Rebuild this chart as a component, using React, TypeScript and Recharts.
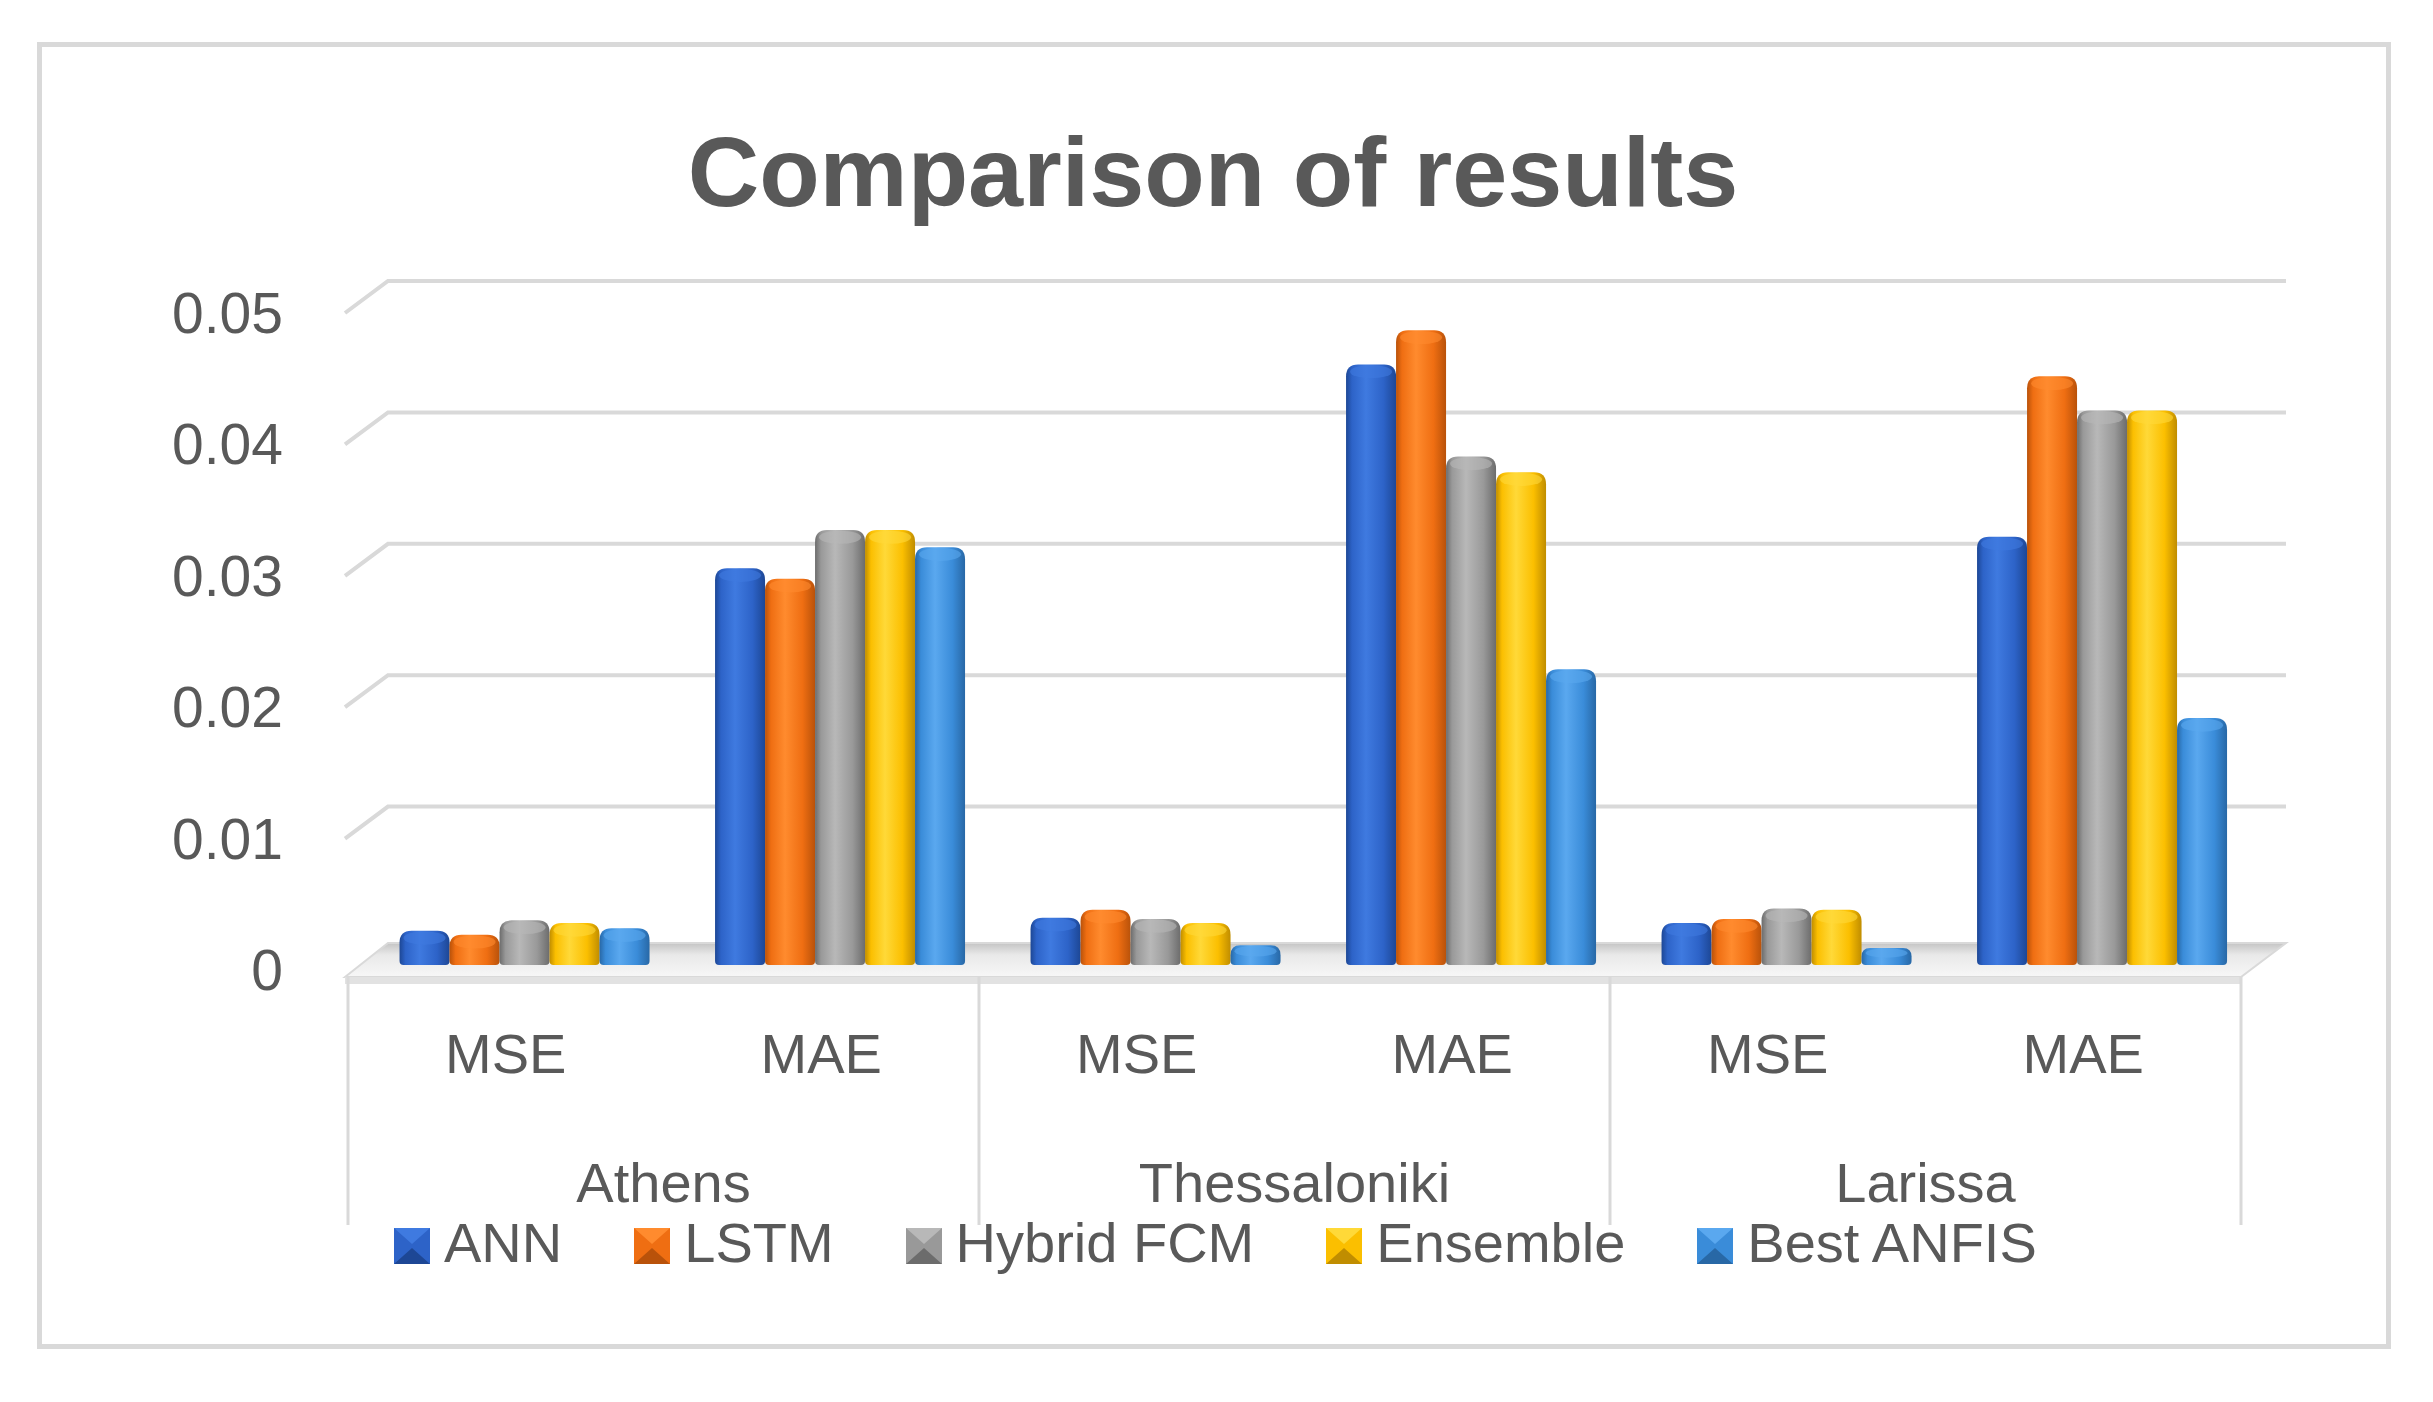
import React from 'react';
import { BarChart, Bar, XAxis, YAxis, CartesianGrid, Legend } from 'recharts';

// values
const metrics = ['MSE', 'MAE', 'MSE', 'MAE', 'MSE', 'MAE'];
const cities = ['Athens', 'Athens', 'Thessaloniki', 'Thessaloniki', 'Larissa', 'Larissa'];
const ann = [0.0026, 0.0302, 0.0036, 0.0457, 0.0032, 0.0326];
const lstm = [0.0023, 0.0294, 0.0042, 0.0483, 0.0035, 0.0448];
const hybridFcm = [0.0034, 0.0331, 0.0035, 0.0387, 0.0043, 0.0422];
const ensemble = [0.0032, 0.0331, 0.0032, 0.0375, 0.0042, 0.0422];
const bestAnfis = [0.0028, 0.0318, 0.0015, 0.0225, 0.0013, 0.0188];
const yTicks = [0, 0.01, 0.02, 0.03, 0.04, 0.05];

const series = [
  { key: 'ann', name: 'ANN', values: ann, dark: '#1d4795', main: '#2d63c8', light: '#3f7ae0' },
  { key: 'lstm', name: 'LSTM', values: lstm, dark: '#b9520a', main: '#ef6e12', light: '#ff8b2e' },
  { key: 'hybrid', name: 'Hybrid FCM', values: hybridFcm, dark: '#6c6c6c', main: '#999999', light: '#b8b8b8' },
  { key: 'ensemble', name: 'Ensemble', values: ensemble, dark: '#c08d00', main: '#fbbf00', light: '#ffd938' },
  { key: 'best', name: 'Best ANFIS', values: bestAnfis, dark: '#2868a6', main: '#3a8cd9', light: '#5aa8ef' },
];

const data = metrics.map((m, i) => {
  const row: any = { metric: m, city: cities[i] };
  series.forEach((s) => { row[s.key] = s.values[i]; });
  return row;
});

const FONT = '"Liberation Sans", Arial, sans-serif';
const TEXT = '#595959';
const GRID = '#d9d9d9';
// 3D depth shift of the columns relative to the category boxes
const DX = 20;
const DY = -5;

function Column(props: any) {
  const { x, y, width, height, s } = props;
  if (!height || height <= 0) return null;
  const bx = x + DX;
  const by = y + DY;
  const w = width;
  const h = height;
  const r = Math.min(12, h / 2);
  const rb = Math.min(4, h / 2);
  const id = `col-${s.key}`;
  const d = `M${bx},${by + r} Q${bx},${by} ${bx + r},${by} L${bx + w - r},${by} Q${bx + w},${by} ${bx + w},${by + r}
    L${bx + w},${by + h - rb} Q${bx + w},${by + h} ${bx + w - rb},${by + h} L${bx + rb},${by + h} Q${bx},${by + h} ${bx},${by + h - rb} Z`;
  return (
    <g>
      <defs>
        <linearGradient id={id} x1="0" y1="0" x2="1" y2="0">
          <stop offset="0%" stopColor={s.dark} />
          <stop offset="12%" stopColor={s.main} />
          <stop offset="40%" stopColor={s.light} />
          <stop offset="75%" stopColor={s.main} />
          <stop offset="100%" stopColor={s.dark} />
        </linearGradient>
      </defs>
      <path d={d} fill={`url(#${id})`} />
      <ellipse cx={bx + w / 2} cy={by + r * 0.6} rx={w / 2 - 4} ry={r * 0.55} fill={s.light} opacity={0.6} />
    </g>
  );
}

function YTick(props: any) {
  const { x, y, payload } = props;
  const v = payload.value;
  return (
    <text x={x} y={y} dy="0.35em" textAnchor="end" fill={TEXT} fontFamily={FONT} fontSize={57}>
      {v === 0 ? '0' : v.toFixed(2)}
    </text>
  );
}

function MetricTick(props: any) {
  const { x, y, payload, index } = props;
  const half = payload.offset ?? 158;
  const sepTop = y + 7;
  const sepBottom = y + 255;
  return (
    <g>
      {index % 2 === 0 && (
        <line x1={x - half} x2={x - half} y1={sepTop} y2={sepBottom} stroke={GRID} strokeWidth={3} />
      )}
      {index === metrics.length - 1 && (
        <line x1={x + half} x2={x + half} y1={sepTop} y2={sepBottom} stroke={GRID} strokeWidth={3} />
      )}
      <text x={x} y={y + 103} textAnchor="middle" fill={TEXT} fontFamily={FONT} fontSize={56}>
        {payload.value}
      </text>
    </g>
  );
}

function CityTick(props: any) {
  const { x, y, payload } = props;
  return (
    <text x={x} y={y + 82} textAnchor="middle" fill={TEXT} fontFamily={FONT} fontSize={56}>
      {payload.value}
    </text>
  );
}

const gridLine = (p: any) => {
  const { x1, x2, y1 } = p;
  return (
    <polyline
      key={p.key}
      points={`${x1 - 3},${y1} ${x1 + 40},${y1 - 32} ${x2 + 45},${y1 - 32}`}
      fill="none"
      stroke={GRID}
      strokeWidth={4}
    />
  );
};

const floor = (p: any) => {
  const { x1, x2, y1 } = p;
  return (
    <g key={p.key}>
      <defs>
        <linearGradient id="floorFill" x1="0" y1="0" x2="0" y2="1">
          <stop offset="0%" stopColor="#c4c4c4" />
          <stop offset="35%" stopColor="#e9e9e9" />
          <stop offset="100%" stopColor="#f7f7f7" />
        </linearGradient>
      </defs>
      <polygon
        points={`${x1 - 3},${y1 + 7} ${x1 + 40},${y1 - 27} ${x2 + 45},${y1 - 27} ${x2},${y1 + 7}`}
        fill="url(#floorFill)"
        stroke={GRID}
        strokeWidth={2}
      />
      <rect x={x1 - 3} y={y1 + 7} width={x2 - x1 + 3} height={7} fill="#e2e2e2" />
    </g>
  );
};

function LegendContent() {
  return (
    <div style={{ display: 'flex', alignItems: 'center', fontFamily: FONT, fontSize: 56, color: TEXT, lineHeight: '64px' }}>
      {series.map((s) => (
        <div key={s.key} style={{ display: 'flex', alignItems: 'center', marginRight: 72 }}>
          <svg width={36} height={36} style={{ marginRight: 14, marginTop: 6 }}>
            <rect x={0} y={0} width={36} height={36} fill={s.main} />
            <polygon points="0,0 36,0 18,16" fill={s.light} />
            <polygon points="0,36 36,36 18,20" fill={s.dark} />
          </svg>
          <span style={{ whiteSpace: 'nowrap' }}>{s.name}</span>
        </div>
      ))}
    </div>
  );
}

export default function App() {
  return (
    <div style={{ position: 'absolute', left: 0, top: 0, width: 2433, height: 1402, background: '#ffffff' }}>
      <div
        style={{
          position: 'absolute', left: 37, top: 42, width: 2354, height: 1307,
          border: '5px solid #d9d9d9', boxSizing: 'border-box',
        }}
      />
      <div
        style={{
          position: 'absolute', left: 0, top: 122, width: 2426, textAlign: 'center',
          fontFamily: FONT, fontWeight: 'bold', fontSize: 99, lineHeight: '100px', color: TEXT,
        }}
      >
        Comparison of results
      </div>
      <BarChart
        width={2433}
        height={1402}
        data={data}
        margin={{ top: 313, right: 192, bottom: 132, left: 0 }}
        barCategoryGap="10%"
        barGap={0}
        style={{ position: 'absolute', left: 0, top: 0 }}
      >
        <CartesianGrid vertical={false} horizontalValues={[0]} horizontal={floor} />
        <CartesianGrid vertical={false} horizontalValues={[0.01, 0.02, 0.03, 0.04, 0.05]} horizontal={gridLine} />
        <XAxis
          xAxisId="a"
          dataKey="metric"
          height={150}
          axisLine={false}
          tickLine={false}
          tickSize={0}
          tickMargin={0}
          interval={0}
          tick={<MetricTick />}
        />
        <XAxis
          xAxisId="b"
          dataKey="city"
          allowDuplicatedCategory={false}
          height={150}
          axisLine={false}
          tickLine={false}
          tickSize={0}
          tickMargin={0}
          interval={0}
          tick={<CityTick />}
        />
        <YAxis
          width={348}
          domain={[0, 0.05]}
          ticks={yTicks}
          axisLine={false}
          tickLine={false}
          tickSize={0}
          tickMargin={65}
          tick={<YTick />}
        />
        <Legend
          layout="horizontal"
          verticalAlign="middle"
          align="center"
          wrapperStyle={{ left: 394, top: 1211, width: 'auto', height: 'auto' }}
          content={<LegendContent />}
        />
        {series.map((s) => (
          <Bar
            key={s.key}
            xAxisId="a"
            dataKey={s.key}
            name={s.name}
            fill={s.main}
            isAnimationActive={false}
            shape={(p: any) => <Column {...p} s={s} />}
          />
        ))}
      </BarChart>
    </div>
  );
}
